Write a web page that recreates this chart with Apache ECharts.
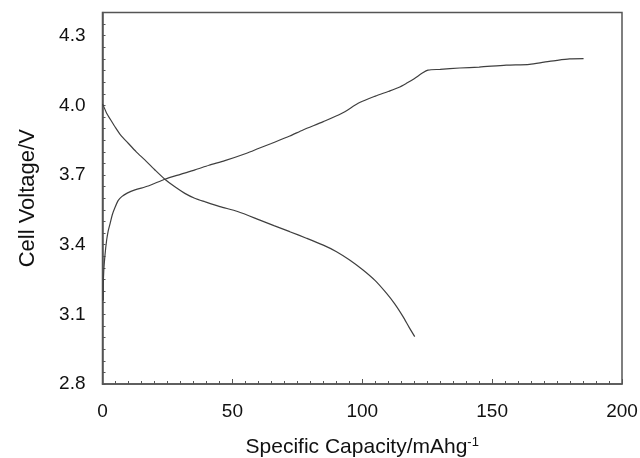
<!DOCTYPE html>
<html>
<head>
<meta charset="utf-8">
<script src="https://cdn.jsdelivr.net/npm/echarts@6/dist/echarts.min.js"></script>
<style>
  html, body { margin: 0; padding: 0; background: #ffffff; }
  #chart { width: 640px; height: 458px; }
</style>
</head>
<body>
<div id="chart"></div>
<script>
// Charge curve: [specific capacity (mAh/g), cell voltage (V)]
const chargeCurve = [
  [0.3, 3.16], [0.3, 3.22], [0.5, 3.29], [1.0, 3.36], [1.6, 3.42],
  [2.2, 3.46], [2.9, 3.49], [3.8, 3.53], [4.8, 3.56], [6.0, 3.59],
  [7.4, 3.607], [9.5, 3.622], [12.5, 3.636], [17.6, 3.653], [24, 3.682],
  [30, 3.703], [35.6, 3.722], [41, 3.742], [47.1, 3.762], [55.5, 3.794],
  [60, 3.814], [65, 3.836], [72.1, 3.868], [77.2, 3.894], [85, 3.93],
  [92, 3.965], [99, 4.012], [105, 4.04], [110, 4.06], [114, 4.077],
  [117, 4.095], [120, 4.115], [123, 4.138], [125.3, 4.152], [130, 4.155],
  [137.5, 4.161], [145, 4.165], [155.4, 4.173], [164.4, 4.177], [170, 4.186],
  [175, 4.194], [179.8, 4.2], [185.2, 4.201]
];

// Discharge curve: [specific capacity (mAh/g), cell voltage (V)]
const dischargeCurve = [
  [0, 4.006], [0.3, 4.0], [1.6, 3.966], [3, 3.94], [4.8, 3.908],
  [7, 3.872], [9.9, 3.837], [13, 3.8], [16.3, 3.765], [20, 3.724],
  [24, 3.682], [28, 3.648], [31.7, 3.621], [35.5, 3.6], [39.4, 3.585],
  [45.2, 3.564], [52, 3.543], [60.6, 3.506], [66, 3.482], [72.1, 3.456],
  [78.5, 3.428], [85, 3.398], [90.1, 3.37], [95, 3.335], [100.3, 3.291],
  [105, 3.245], [109.3, 3.191], [112.5, 3.145], [115.7, 3.09], [118, 3.045],
  [120.2, 3.004]
];

// Axis ranges and labelled ticks
const xRange = [0, 200];
const xTickLabels = [0, 50, 100, 150, 200];
const yRange = [2.8, 4.4];
const yTickLabels = [2.8, 3.1, 3.4, 3.7, 4.0, 4.3];

// Small inward ticks on the voltage axis every 0.05 V
const yMinorTicks = [];
for (let i = 0; i <= 32; i++) {
  yMinorTicks.push(+(yRange[0] + i * 0.05).toFixed(2));
}

const lineColor = '#3f3f3f';
const frameColor = '#555555';
const textColor = '#111111';
const fontFamily = '"Liberation Sans", Arial, sans-serif';

const chart = echarts.init(document.getElementById('chart'), null, { renderer: 'canvas' });

chart.setOption({
  animation: false,
  backgroundColor: '#ffffff',
  textStyle: { fontFamily: fontFamily },
  grid: {
    left: 102.5,
    right: 18,
    top: 12.5,
    bottom: 74,
    outerBoundsMode: 'none',
    containLabel: false,
    show: true,
    borderColor: frameColor,
    borderWidth: 1.5,
    backgroundColor: 'transparent'
  },
  xAxis: {
    type: 'value',
    min: xRange[0],
    max: xRange[1],
    interval: 50,
    name: 'Specific Capacity/mAhg{sup|-1}',
    nameLocation: 'middle',
    nameGap: 52,
    nameTextStyle: {
      fontSize: 21,
      color: textColor,
      fontFamily: fontFamily,
      rich: {
        sup: { fontSize: 13, verticalAlign: 'top', padding: [0, 0, 10, 0], color: textColor, fontFamily: fontFamily }
      }
    },
    axisLine: { show: true, lineStyle: { color: frameColor, width: 1.5 } },
    axisTick: { show: true, inside: true, length: 5, lineStyle: { color: frameColor, width: 1 } },
    minorTick: { show: true, splitNumber: 10, length: 3, lineStyle: { color: frameColor, width: 1 } },
    axisLabel: {
      customValues: xTickLabels,
      fontSize: 19,
      color: textColor,
      margin: 18,
      fontFamily: fontFamily
    },
    splitLine: { show: false },
    minorSplitLine: { show: false }
  },
  yAxis: {
    type: 'value',
    min: yRange[0],
    max: yRange[1],
    name: 'Cell Voltage/V',
    nameLocation: 'middle',
    nameRotate: 90,
    nameGap: 64,
    nameTextStyle: { fontSize: 22, color: textColor, fontFamily: fontFamily },
    axisLine: { show: true, lineStyle: { color: frameColor, width: 1.5 } },
    axisTick: {
      show: true,
      inside: true,
      length: 3,
      customValues: yMinorTicks,
      lineStyle: { color: frameColor, width: 1 }
    },
    axisLabel: {
      customValues: yTickLabels,
      formatter: function (v) { return Number(v).toFixed(1); },
      fontSize: 19,
      color: textColor,
      margin: 17,
      fontFamily: fontFamily
    },
    splitLine: { show: false }
  },
  series: [
    {
      name: 'Charge',
      type: 'line',
      data: chargeCurve,
      showSymbol: false,
      smooth: 0.25,
      lineStyle: { color: lineColor, width: 1.2 }
    },
    {
      name: 'Discharge',
      type: 'line',
      data: dischargeCurve,
      showSymbol: false,
      smooth: 0.25,
      lineStyle: { color: lineColor, width: 1.2 }
    }
  ]
});
</script>
</body>
</html>
